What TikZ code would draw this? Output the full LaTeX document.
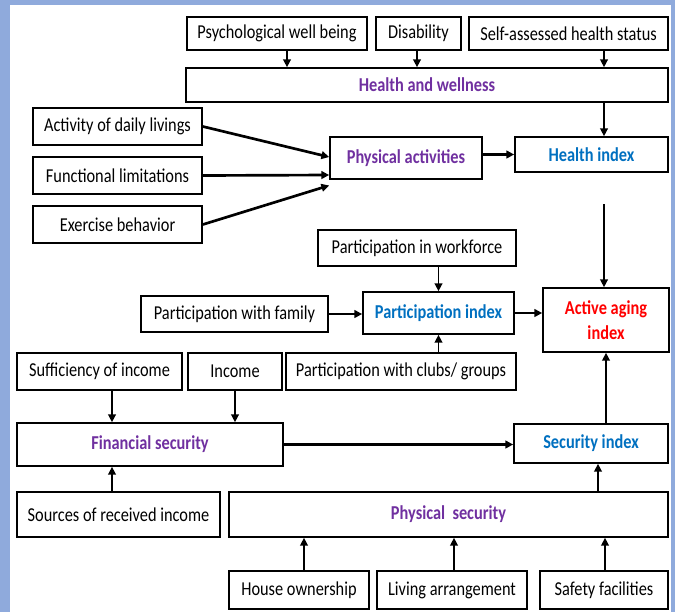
\documentclass[tikz,border=0pt]{standalone}
\usepackage{fontspec}
\setmainfont{Carlito}[FakeStretch=0.83]
\usepackage{xcolor}
\usetikzlibrary{arrows.meta}
\definecolor{framebl}{HTML}{8FAADC}
\definecolor{dimpurple}{HTML}{7030A0}
\definecolor{idxblue}{HTML}{0070C0}
\definecolor{aaired}{HTML}{FF0000}

\begin{document}
\begin{tikzpicture}[
  x=0.025cm, y=-0.025cm,
  font=\fontsize{14}{15}\selectfont, every node/.style={align=center},
  bx/.style={draw=black, line width=1.2pt, fill=white, inner sep=2pt},
  dim/.style={bx, text=dimpurple, font=\fontsize{14}{15}\selectfont\bfseries},
  idx/.style={bx, text=idxblue, font=\fontsize{14}{15}\selectfont\bfseries},
  e/.style={-{Triangle[length=5.5pt,width=5.5pt]}, draw=black, line width=1pt},
  et/.style={e, line width=1.9pt},
]
\fill[framebl] (0,0) rectangle (675,612);
\fill[white] (10,5) rectangle (671,612);
\useasboundingbox (0,0) rectangle (675,612);
\node[bx, minimum width=4.5cm, minimum height=0.825cm] (psych) at (277,33.5) {Psychological well being};
\node[bx, minimum width=2.125cm, minimum height=0.825cm] (disab) at (418.5,33.5) {Disability};
\node[bx, minimum width=4.975cm, minimum height=0.825cm] (selfh) at (568.5,33.5) {Self-assessed health status};
\node[dim, minimum width=12.05cm, minimum height=0.85cm] (hw) at (427,85) {Health and wellness};
\draw[e] (psych.south -| 287,0) -- (hw.north -| 287,0);
\draw[e] (disab.south -| 417,0) -- (hw.north -| 417,0);
\draw[e] (selfh.south -| 604,0) -- (hw.north -| 604,0);
\node[bx, minimum width=4.225cm, minimum height=0.925cm] (adl) at (117.5,126.5) {Activity of daily livings};
\node[bx, minimum width=4.225cm, minimum height=0.925cm] (funct) at (117.5,175.5) {Functional limitations};
\node[bx, minimum width=4.225cm, minimum height=0.925cm] (exer) at (117.5,224.5) {Exercise behavior};
\node[dim, minimum width=3.8cm, minimum height=1.05cm] (phys) at (406,158) {Physical activities};
\draw[et] (adl.east) -- (phys.west |- 0,157);
\draw[et] (funct.east) -- (phys.west |- 0,175);
\draw[et] (exer.east) -- ([yshift=-4pt]phys.south west);
\node[idx, minimum width=3.825cm, minimum height=0.875cm] (hidx) at (591.5,154.5) {Health index};
\draw[e] (hw.south -| 604,0) -- (hidx.north -| 604,0);
\draw[et] (phys.east |- hidx) -- (hidx.west);
\node[bx, minimum width=4.95cm, minimum height=0.9cm] (workf) at (417,248) {Participation in workforce};
\node[bx, minimum width=4.675cm, minimum height=0.9cm] (fam) at (234.5,314) {Participation with family};
\node[idx, minimum width=3.775cm, minimum height=1.05cm] (pidx) at (438.5,313) {Participation index};
\node[bx, minimum width=3.15cm, minimum height=1.6cm, text=aaired, font=\fontsize{14}{18}\selectfont\bfseries] (aai) at (606,320) {Active aging\\index};
\coordinate (hgap) at (604,204);
\draw[e] (hgap) -- (aai.north -| hgap);
\draw[e] (pidx.north |- workf.south) -- (pidx.north);
\draw[et] (fam.east) -- (fam.east -| pidx.west);
\draw[et] (pidx.east) -- (pidx.east -| aai.west);
\node[bx, minimum width=4.125cm, minimum height=0.925cm] (suff) at (99.5,371.5) {Sufficiency of income};
\node[bx, minimum width=2.35cm, minimum height=0.925cm] (inc) at (235,371.5) {Income};
\node[bx, minimum width=5.75cm, minimum height=0.925cm] (clubs) at (401,371.5) {Participation with clubs/ groups};
\draw[e] (pidx.south |- clubs.north) -- (pidx.south);
\node[dim, minimum width=6.65cm, minimum height=1.075cm] (fin) at (150,444.5) {Financial security};
\node[idx, minimum width=3.85cm, minimum height=0.975cm] (sidx) at (591,443.5) {Security index};
\draw[e] (suff.south -| 112,0) -- (fin.north -| 112,0);
\draw[e] (inc.south) -- (inc.south |- fin.north);
\draw[et] (fin.east) -- (fin.east -| sidx.west);
\draw[e] (aai.south |- sidx.north) -- (aai.south);
\node[bx, minimum width=5.075cm, minimum height=1.125cm] (src) at (118.5,514.5) {Sources of received income};
\node[dim, minimum width=10.975cm, minimum height=1.125cm] (physs) at (448.5,514.5) {Physical\ \ security};
\draw[e] (src.north -| 112,0) -- (fin.south -| 112,0);
\draw[e] (physs.north -| 598,0) -- (sidx.south -| 598,0);
\node[bx, minimum width=3.5cm, minimum height=0.95cm] (house) at (299,590) {House ownership};
\node[bx, minimum width=3.75cm, minimum height=0.95cm] (living) at (452,590) {Living arrangement};
\node[bx, minimum width=3.2cm, minimum height=0.95cm] (safety) at (604,590) {Safety facilities};
\draw[e] (house.north -| 304,0) -- (physs.south -| 304,0);
\draw[e] (living.north -| 454,0) -- (physs.south -| 454,0);
\draw[e] (safety.north -| 605,0) -- (physs.south -| 605,0);
\end{tikzpicture}
\end{document}
